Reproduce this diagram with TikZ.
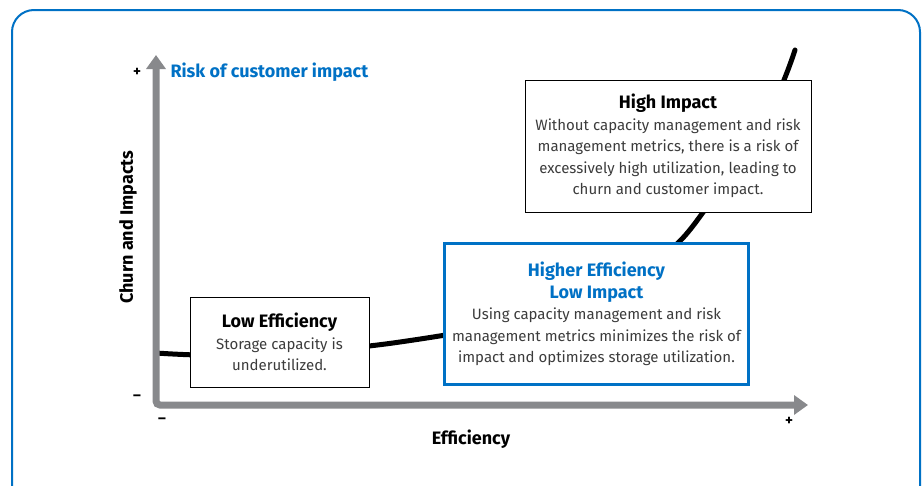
\documentclass[tikz,border=0pt]{standalone}
\usepackage{fontspec}
\setmainfont{Fira Sans}
\usepackage{tikz}
\usetikzlibrary{arrows, arrows.meta}
\usetikzlibrary{positioning}
\usepackage{xcolor}

\definecolor{intelblue}{HTML}{0071C5}
\definecolor{axisgray}{HTML}{88898C}
\definecolor{bodygray}{HTML}{3C3C3C}

\newcommand{\titlefont}{\fontsize{18}{22.5}\selectfont\bfseries}

\tikzset{
	axisline/.style={line width=7pt, axisgray, {Triangle[length=14pt,width=19pt]}-{Triangle[length=14pt,width=19pt]}, rounded corners=4pt},
	infobox/.style={draw, line width=1pt, fill=white, align=center, font=\fontsize{15}{21.5}\selectfont, text=bodygray},
	goodbox/.style={infobox, draw=intelblue, line width=3.5pt},
	axislabel/.style={font=\fontsize{18}{18}\selectfont\bfseries},
	sign/.style={font=\fontsize{15}{15}\selectfont\bfseries}
}

\begin{document}
\begin{tikzpicture}[x=1pt, y=-1pt] % efficiency vs. impact
	
	\useasboundingbox (0,0) rectangle (924,485);
	
	%frame
	\draw[intelblue, line width=2pt, rounded corners=22pt] (12,10) rectangle (920,520);
	
	%curve
	\draw[line width=5pt, line cap=round] plot[smooth, tension=0.6] coordinates {(156,353) (250,355) (400,342) (560,310) (660,258) (712,200) (770,110) (795,50)};
	
	%axes
	\coordinate (origin) at (156,405);
	\coordinate (ytip) at (156,55);
	\coordinate (xtip) at (808,405);
	\draw[axisline] (ytip) -- (origin) -- (xtip);
	
	%boxes
	\node[infobox, minimum width=179pt, minimum height=90pt] (low) at (279.5,342) {{\color{black}\titlefont Low Efficiency}\\Storage capacity is\\underutilized.};
	\node[goodbox, minimum width=304pt, minimum height=141pt] (good) at (596.5,314) {{\color{intelblue}\titlefont Higher Efficiency}\\{\color{intelblue}\titlefont Low Impact}\\Using capacity management and risk\\management metrics minimizes the risk of\\impact and optimizes storage utilization.};
	\node[infobox, minimum width=286pt, minimum height=132pt] (high) at (668,146) {{\color{black}\titlefont High Impact}\\Without capacity management and risk\\management metrics, there is a risk of\\excessively high utilization, leading to\\churn and customer impact.};
	
	%labels
	\node[anchor=west, text=intelblue, axislabel] (risk) at (167,72) {Risk of customer impact};
	\node[rotate=90, axislabel] (churn) at (128,227) {Churn and Impacts};
	\node[axislabel] (eff) at (471,439) {Efficiency};
	
	\node[sign] (yplus) at (137,72) {+};
	\node[sign] (yminus) at (137,398) {--};
	\node[sign] (xminus) at (162,421) {--};
	\node[sign] (xplus) at (789,421) {+};
	
\end{tikzpicture}
\end{document}
